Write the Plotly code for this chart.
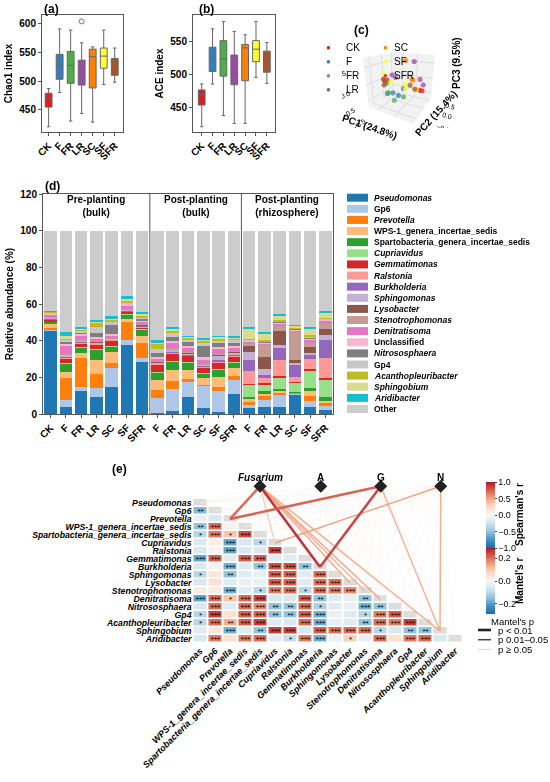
import plotly.graph_objects as go
from plotly.colors import sample_colorscale

W, H = 550, 782
def X(px): return px / W
def Y(py): return 1 - py / H

FONT = "Liberation Sans, Arial, sans-serif"

# ---------------- data: (a) & (b) ----------------
groups = ["CK", "F", "FR", "LR", "SC", "SF", "SFR"]
group_colors = ["#e41a1c", "#377eb8", "#4daf4a", "#984ea3", "#ff7f00", "#ffff33", "#a65628"]

chao_lo = [421, 480, 431, 444, 429, 494, 498]
chao_q1 = [455, 503, 496, 493, 488, 522, 510]
chao_med = [470, 527, 527, 510, 542, 543, 534]
chao_q3 = [479, 546, 551, 536, 555, 557, 539]
chao_hi = [487, 590, 588, 566, 559, 588, 557]
chao_outlier_group = 3
chao_outlier = 603

ace_lo = [420, 485, 437, 425, 425, 495, 486]
ace_q1 = [453, 504, 497, 484, 490, 519, 503]
ace_med = [469, 523, 523, 501, 540, 538, 522]
ace_q3 = [476, 541, 551, 529, 545, 551, 535]
ace_hi = [485, 569, 580, 565, 560, 580, 548]

# ---------------- data: (c) PCoA ----------------
pc_titles = ["PC1 (24.8%)", "PC2 (15.4%)", "PC3 (9.5%)"]
pc1 = {
    "CK": [-0.55, -0.5, 0.25, 0.3],
    "F": [-0.2, -0.1, 0.0, -0.3],
    "FR": [-0.45, -0.3, -0.1, 0.05],
    "LR": [-0.4, -0.35, 0.2, 0.35, 0.1],
    "SC": [-0.05, 0.1, 0.0, 0.2],
    "SF": [-0.5, -0.35, -0.1, 0.0, 0.15],
    "SFR": [-0.55, -0.5, 0.05, 0.15],
}
pc2 = {
    "CK": [-0.3, -0.2, 0.3, 0.4],
    "F": [-0.4, -0.3, -0.2, -0.5],
    "FR": [-0.3, -0.45, -0.5, -0.3],
    "LR": [-0.1, 0.0, 0.45, 0.3, 0.2],
    "SC": [0.0, 0.1, 0.4, 0.2],
    "SF": [-0.35, -0.25, 0.1, -0.1, 0.3],
    "SFR": [-0.25, -0.35, 0.1, 0.2],
}
pc3 = {
    "CK": [0.1, 0.05, -0.3, -0.35],
    "F": [-0.2, -0.3, -0.1, -0.2],
    "FR": [0.0, -0.2, -0.35, -0.3],
    "LR": [0.2, 0.1, 0.0, -0.1, 0.6],
    "SC": [0.65, 0.1, -0.05, -0.25],
    "SF": [0.3, 0.05, -0.1, -0.15, -0.3],
    "SFR": [0.0, -0.05, -0.1, -0.25],
}

# ---------------- data: (d) stacked bars ----------------
bar_ticks = ["CK", "F", "FR", "LR", "SC", "SF", "SFR",
             "F", "FR", "LR", "SC", "SF", "SFR",
             "F", "FR", "LR", "SC", "SF", "SFR"]
bar_genera = ["Pseudomonas", "Gp6", "Prevotella", "WPS-1_genera_incertae_sedis",
              "Spartobacteria_genera_incertae_sedis", "Cupriavidus", "Gemmatimonas",
              "Ralstonia", "Burkholderia", "Sphingomonas", "Lysobacter", "Stenotrophomonas",
              "Denitratisoma", "Unclassified", "Nitrososphaera", "Gp4", "Acanthopleuribacter",
              "Sphingobium", "Aridibacter"]
bar_italic = [True, False, True, False, False, True, True, True, True, True, True, True,
              True, False, True, False, True, True, True]
bar_colors = ["#1f77b4", "#aec7e8", "#ff7f0e", "#ffbb78", "#2ca02c", "#98df8a", "#d62728",
              "#ff9896", "#9467bd", "#c5b0d5", "#8c564b", "#c49c94", "#e377c2", "#f7b6d2",
              "#7f7f7f", "#c7c7c7", "#bcbd22", "#dbdb8d", "#17becf"]
other_color = "#cccccc"

Pseudomonas = [45.5, 3.8, 12.6, 9.2, 14.6, 37.5, 28.1, 0.3, 1.8, 9.2, 3.2, 1.0, 11.0, 3.2, 3.6, 3.8, 10.5, 3.6, 2.2]
Gp6 = [0.6, 3.6, 2.4, 4.9, 10.3, 2.7, 2.2, 8.5, 11.7, 8.5, 12.2, 11.3, 7.3, 1.8, 4.2, 6.7, 0.7, 3.6, 2.2]
Prevotella = [0.8, 12.0, 15.8, 7.7, 2.7, 9.9, 8.4, 4.1, 4.6, 1.5, 0.3, 2.3, 2.5, 1.5, 1.8, 0.9, 0.3, 2.4, 1.5]
WPS1 = [2.3, 3.5, 2.5, 7.9, 6.3, 1.8, 3.6, 5.8, 6.0, 4.9, 4.1, 5.5, 4.2, 1.8, 1.2, 1.4, 0.3, 2.7, 1.4]
Spartobacteria = [1.0, 4.5, 2.9, 5.6, 2.7, 2.3, 3.6, 4.0, 4.5, 4.0, 2.4, 4.3, 3.2, 1.1, 1.5, 0.9, 0.3, 1.8, 1.8]
Cupriavidus = [0.3, 0.3, 0.3, 0.3, 0.3, 0.3, 0.3, 0.3, 0.3, 0.3, 0.3, 0.3, 0.3, 6.5, 3.3, 6.2, 4.9, 9.4, 9.8]
Gemmatimonas = [0.8, 2.5, 2.2, 2.4, 3.2, 1.3, 1.2, 3.8, 4.2, 3.3, 2.8, 3.4, 2.8, 0.7, 1.2, 1.1, 0.3, 1.1, 0.7]
Ralstonia = [0.4, 0.5, 0.4, 0.3, 0.3, 0.3, 0.3, 0.5, 0.6, 0.4, 0.6, 0.8, 0.8, 6.6, 3.1, 8.5, 3.0, 5.4, 10.7]
Burkholderia = [0.3, 0.4, 0.3, 0.3, 0.3, 0.2, 0.3, 0.3, 0.3, 0.3, 0.3, 0.5, 0.3, 6.3, 1.5, 6.3, 6.4, 2.2, 10.0]
Sphingomonas = [0.4, 1.2, 0.6, 0.6, 0.4, 0.5, 0.4, 0.6, 1.0, 0.6, 0.6, 2.5, 1.0, 4.5, 3.2, 1.9, 1.2, 0.9, 2.7]
Lysobacter = [0.3, 0.3, 0.3, 0.3, 0.3, 0.3, 0.5, 0.3, 0.4, 0.4, 0.3, 0.5, 0.5, 3.3, 6.7, 7.6, 1.5, 3.7, 3.1]
Stenotrophomonas = [0.4, 0.3, 0.4, 0.3, 0.3, 0.3, 0.4, 0.4, 0.4, 0.4, 0.4, 0.5, 0.6, 1.2, 6.4, 2.9, 15.4, 1.7, 3.2]
Denitratisoma = [1.0, 4.0, 1.6, 1.5, 1.0, 1.4, 0.9, 1.5, 2.7, 2.5, 1.8, 2.5, 1.8, 0.9, 0.9, 1.2, 0.9, 1.9, 1.5]
Unclassified = [0.5, 1.8, 1.5, 0.8, 1.2, 1.2, 0.8, 0.8, 1.5, 1.0, 2.0, 1.2, 0.8, 0.5, 0.6, 0.5, 0.5, 0.9, 0.5]
Nitrososphaera = [0.4, 0.6, 0.5, 2.0, 4.8, 0.4, 0.9, 2.2, 2.2, 1.8, 5.9, 2.2, 1.8, 0.3, 0.3, 0.3, 0.3, 0.3, 0.3]
Gp4 = [0.3, 0.8, 1.0, 3.6, 1.4, 0.6, 1.0, 2.3, 1.8, 1.2, 1.6, 1.2, 1.2, 0.3, 0.3, 0.3, 0.3, 0.3, 0.3]
Acanthopleuribacter = [0.4, 1.3, 0.6, 2.2, 1.3, 0.9, 0.6, 2.3, 1.4, 1.2, 1.2, 1.2, 1.2, 0.4, 0.5, 0.8, 0.4, 1.3, 0.5]
Sphingobium = [0.3, 0.9, 0.6, 0.7, 0.8, 0.8, 0.8, 1.2, 0.7, 0.6, 0.6, 0.8, 0.6, 6.0, 3.5, 2.2, 1.0, 3.3, 2.9]
Aridibacter = [0.2, 2.4, 1.2, 0.6, 1.0, 1.5, 1.6, 0.9, 1.5, 0.5, 0.8, 0.4, 0.5, 0.6, 1.1, 0.9, 0.3, 0.7, 1.1]

bar_values = [Pseudomonas, Gp6, Prevotella, WPS1, Spartobacteria, Cupriavidus, Gemmatimonas,
              Ralstonia, Burkholderia, Sphingomonas, Lysobacter, Stenotrophomonas, Denitratisoma,
              Unclassified, Nitrososphaera, Gp4, Acanthopleuribacter, Sphingobium, Aridibacter]
Other = [round(100 - sum(v[i] for v in bar_values), 2) for i in range(len(bar_ticks))]

stage_labels = ["Pre-planting<br>(bulk)", "Post-planting<br>(bulk)", "Post-planting<br>(rhizosphere)"]
stage_centers = [3, 9.5, 15.5]
stage_breaks = [6.5, 12.5]

# ---------------- data: (e) correlation heatmap + Mantel ----------------
heat_genera = ["Pseudomonas", "Gp6", "Prevotella", "WPS-1_genera_incertae_sedis",
               "Spartobacteria_genera_incertae_sedis", "Cupriavidus", "Ralstonia",
               "Gemmatimonas", "Burkholderia", "Sphingomonas", "Lysobacter",
               "Stenotrophomonas", "Denitratisoma", "Nitrososphaera", "Gp4",
               "Acanthopleuribacter", "Sphingobium", "Aridibacter"]

spearman_rows = [
    [],
    [-0.55],
    [-0.1, -0.2],
    [-0.5, 0.7, 0.05],
    [-0.35, 0.65, 0.35, 0.8],
    [-0.2, 0.1, -0.65, -0.2, -0.35],
    [-0.2, 0.05, -0.65, -0.2, -0.2, 0.85],
    [-0.65, 0.75, -0.15, 0.75, 0.75, -0.15, -0.15],
    [-0.2, 0.05, -0.6, -0.15, -0.5, 0.8, 0.8, -0.5],
    [-0.35, 0.15, -0.5, -0.15, -0.1, 0.75, 0.75, -0.15, 0.7],
    [-0.2, 0.2, -0.15, -0.1, -0.1, 0.75, 0.75, -0.15, 0.7, 0.7],
    [0.1, 0.1, -0.6, -0.15, -0.35, 0.65, 0.7, -0.35, 0.7, 0.65, 0.6],
    [-0.65, 0.7, 0.35, 0.7, 0.85, -0.2, -0.2, 0.75, -0.5, -0.15, -0.1, -0.5],
    [-0.2, 0.7, -0.15, 0.7, 0.6, -0.5, -0.5, 0.7, -0.4, -0.15, -0.1, -0.6, -0.5],
    [-0.35, 0.85, 0.2, 0.75, 0.75, -0.5, -0.5, 0.75, -0.6, -0.1, -0.15, -0.35, 0.65, 0.75],
    [-0.35, 0.7, 0.45, 0.75, 0.85, -0.15, -0.2, 0.7, -0.6, -0.1, -0.15, -0.5, 0.7, 0.65, 0.85],
    [-0.15, 0.15, -0.6, -0.15, -0.5, 0.85, 0.85, -0.2, 0.75, 0.7, 0.7, 0.7, -0.35, -0.2, -0.5, -0.5],
    [-0.2, 0.65, 0.2, 0.65, 0.7, -0.15, -0.3, 0.65, -0.6, -0.1, 0.3, -0.1, 0.7, 0.2, 0.65, 0.7, -0.2],
]
star_rows = [
    [],
    ["**"],
    ["", ""],
    ["**", "***", ""],
    ["*", "***", "*", "***"],
    ["", "", "***", "", "*"],
    ["", "", "***", "", "", "***"],
    ["***", "***", "", "***", "***", "", ""],
    ["", "", "***", "", "**", "***", "***", "**"],
    ["*", "", "**", "", "", "***", "***", "", "***"],
    ["", "", "", "", "", "***", "***", "", "***", "***"],
    ["", "", "***", "", "*", "***", "***", "*", "***", "***", "***"],
    ["***", "***", "*", "***", "***", "", "", "***", "**", "", "", "**"],
    ["", "***", "", "***", "***", "**", "**", "***", "*", "", "", "***", "**"],
    ["*", "***", "", "***", "***", "**", "**", "***", "***", "", "", "*", "***", "***"],
    ["*", "***", "**", "***", "***", "", "", "***", "***", "", "", "**", "***", "***", "***"],
    ["", "", "***", "", "**", "***", "***", "", "***", "***", "***", "***", "*", "", "**", "**"],
    ["", "***", "", "***", "***", "", "*", "***", "***", "", "*", "", "***", "", "***", "***", ""],
]

mantel_nodes = ["<i>Fusarium</i>", "A", "G", "N"]
mantel_r_fusarium = [0.03, 0.01, 0.21, 0.02, 0.04, 0.09, 0.06, 0.02, 0.27, 0.05, 0.14, 0.13, 0.15, 0.01, 0.03, 0.04, 0.14, 0.03]
mantel_p_fusarium = [0.3, 0.5, 0.005, 0.4, 0.2, 0.04, 0.08, 0.4, 0.001, 0.2, 0.02, 0.03, 0.02, 0.5, 0.3, 0.3, 0.02, 0.3]
mantel_r_A = [0.02, -0.03, 0.04, 0.01, 0.05, 0.01, 0.02, -0.02, 0.03, 0.02, 0.01, 0.02, 0.03, -0.04, 0.01, 0.02, 0.01, 0.01]
mantel_p_A = [0.4, 0.6, 0.3, 0.5, 0.2, 0.5, 0.4, 0.6, 0.3, 0.4, 0.5, 0.4, 0.3, 0.7, 0.5, 0.4, 0.5, 0.6]
mantel_r_G = [0.02, 0.01, 0.22, 0.03, 0.02, 0.04, 0.05, -0.03, 0.25, 0.04, 0.05, 0.04, 0.03, -0.03, 0.01, 0.03, 0.13, 0.04]
mantel_p_G = [0.4, 0.5, 0.005, 0.3, 0.4, 0.2, 0.2, 0.6, 0.001, 0.2, 0.2, 0.2, 0.3, 0.6, 0.5, 0.3, 0.03, 0.2]
mantel_r_N = [0.04, 0.02, 0.03, 0.01, 0.04, 0.15, 0.05, -0.04, 0.04, 0.03, 0.04, 0.02, 0.04, -0.05, 0.02, 0.03, 0.14, 0.02]
mantel_p_N = [0.2, 0.4, 0.3, 0.5, 0.2, 0.02, 0.2, 0.6, 0.2, 0.3, 0.2, 0.4, 0.2, 0.6, 0.4, 0.3, 0.02, 0.4]
mantel_r = [mantel_r_fusarium, mantel_r_A, mantel_r_G, mantel_r_N]
mantel_p = [mantel_p_fusarium, mantel_p_A, mantel_p_G, mantel_p_N]

# ---------------- styling constants ----------------
node_x = [4.0, 8.05, 12.05, 16.05]
node_y = -2.1
scale_colors = ["#2166ac", "#4393c3", "#92c5de", "#d1e5f0", "#f7f7f7",
                "#fddbc7", "#f4a582", "#d6604d", "#b2182b"]
div_scale = [[i / 8, c] for i, c in enumerate(scale_colors)]
MANTEL_MAX = 0.29

fig = go.Figure()

# ---- (a) Chao1 ----
for i, g in enumerate(groups):
    fig.add_trace(go.Box(x=[i], q1=[chao_q1[i]], median=[chao_med[i]], q3=[chao_q3[i]],
                         lowerfence=[chao_lo[i]], upperfence=[chao_hi[i]],
                         fillcolor=group_colors[i], line=dict(color="#666666", width=1),
                         width=0.62, boxpoints=False, xaxis="x", yaxis="y", showlegend=False))
fig.add_trace(go.Scatter(x=[chao_outlier_group], y=[chao_outlier], mode="markers",
                         marker=dict(symbol="circle-open", size=5, color="#777777", line=dict(width=1)),
                         xaxis="x", yaxis="y", showlegend=False))
# ---- (b) ACE ----
for i, g in enumerate(groups):
    fig.add_trace(go.Box(x=[i], q1=[ace_q1[i]], median=[ace_med[i]], q3=[ace_q3[i]],
                         lowerfence=[ace_lo[i]], upperfence=[ace_hi[i]],
                         fillcolor=group_colors[i], line=dict(color="#666666", width=1),
                         width=0.62, boxpoints=False, xaxis="x2", yaxis="y2", showlegend=False))

# ---- (c) 3D ----
for i, g in enumerate(groups):
    fig.add_trace(go.Scatter3d(x=pc1[g], y=pc2[g], z=pc3[g], mode="markers",
                               marker=dict(size=3, color=group_colors[i], opacity=0.75),
                               scene="scene", showlegend=False))

# ---- (d) stacked bars ----
xb = list(range(len(bar_ticks)))
for name, vals, col in zip(bar_genera, bar_values, bar_colors):
    fig.add_trace(go.Bar(x=xb, y=vals, name=name, marker=dict(color=col, line=dict(width=0)),
                         width=0.82, xaxis="x3", yaxis="y3", showlegend=False))
fig.add_trace(go.Bar(x=xb, y=Other, name="Other", marker=dict(color=other_color, line=dict(width=0)),
                     width=0.82, xaxis="x3", yaxis="y3", showlegend=False))

# ---- (e) heatmap ----
n = len(heat_genera)
Z = [[None] * n for _ in range(n)]
T = [[""] * n for _ in range(n)]
Zd = [[None] * n for _ in range(n)]
for i in range(n):
    for j, v in enumerate(spearman_rows[i]):
        Z[i][j] = v
        T[i][j] = star_rows[i][j]
    Zd[i][i] = 0

def width_of(p):
    return 2.6 if p < 0.01 else (1.5 if p < 0.05 else 0.6)

segs = []
for k in range(4):
    for g in range(n):
        segs.append((width_of(mantel_p[k][g]), k, g))
segs.sort()
for w, k, g in segs:
    r = mantel_r[k][g]
    col = sample_colorscale(div_scale, [min(max((r + MANTEL_MAX) / (2 * MANTEL_MAX), 0), 1)])[0]
    fig.add_trace(go.Scatter(x=[node_x[k], g], y=[node_y, g], mode="lines",
                             line=dict(color=col, width=w), opacity=0.95 if w > 1 else 0.5,
                             xaxis="x4", yaxis="y4", showlegend=False, hoverinfo="skip"))

fig.add_trace(go.Heatmap(z=Zd, x=list(range(n)), y=list(range(n)),
                         colorscale=[[0, "#dcdcdc"], [1, "#dcdcdc"]], showscale=False,
                         xgap=2, ygap=1.5, xaxis="x4", yaxis="y4", hoverinfo="skip"))
fig.add_trace(go.Heatmap(z=Z, x=list(range(n)), y=list(range(n)), text=T,
                         texttemplate="%{text}", textfont=dict(size=8, color="black", family=FONT),
                         colorscale=div_scale, zmin=-1, zmax=1, xgap=2, ygap=1.5,
                         xaxis="x4", yaxis="y4", hoverinfo="skip",
                         colorbar=dict(x=X(486), xanchor="left", y=Y(515), yanchor="middle",
                                       len=66, lenmode="pixels", thickness=9, outlinewidth=0,
                                       ticks="outside", ticklen=2, xpad=0, ypad=0,
                                       tickvals=[-1, -0.5, 0, 0.5, 1],
                                       ticktext=["\u22121.0", "\u22120.5", "0.0", "0.5", "1.0"],
                                       tickfont=dict(size=9, family=FONT))))
fig.add_trace(go.Scatter(x=[node_x[0]], y=[node_y], mode="markers",
                         marker=dict(size=1, color=[0], colorscale=div_scale,
                                     cmin=-MANTEL_MAX, cmax=MANTEL_MAX, showscale=True,
                                     colorbar=dict(x=X(486), xanchor="left", y=Y(581), yanchor="middle",
                                                   len=66, lenmode="pixels", thickness=9, outlinewidth=0,
                                                   ticks="outside", ticklen=2, xpad=0, ypad=0,
                                                   tickvals=[-0.2, 0, 0.2],
                                                   ticktext=["\u22120.2", "0.0", "0.2"],
                                                   tickfont=dict(size=9, family=FONT))),
                         xaxis="x4", yaxis="y4", showlegend=False, hoverinfo="skip"))
fig.add_trace(go.Scatter(x=node_x, y=[node_y] * 4, mode="markers",
                         marker=dict(symbol="diamond", size=10, color="#222222"),
                         xaxis="x4", yaxis="y4", showlegend=False, hoverinfo="skip"))

# ---------------- layout ----------------
box_axis = dict(showline=True, linecolor="#555555", linewidth=1, mirror=True, ticks="outside",
                ticklen=3, tickcolor="#555555", showgrid=False, zeroline=False, automargin=False,
                tickfont=dict(size=10, family=FONT, color="black", weight="bold"))

annotations = []
shapes = []

def ann(px, py, text, size=10, xanchor="center", yanchor="middle", angle=0, color="black"):
    annotations.append(dict(x=X(px), y=Y(py), xref="paper", yref="paper", text=text,
                            showarrow=False, xanchor=xanchor, yanchor=yanchor, textangle=angle,
                            font=dict(size=size, family=FONT, color=color)))

ann(42, 9, "<b>(a)</b>", 12, "left")
ann(197, 9, "<b>(b)</b>", 12, "left")
ann(352, 30, "<b>(c)</b>", 12, "left")
ann(43, 186, "<b>(d)</b>", 12, "left")
ann(110, 469, "<b>(e)</b>", 12, "left")

# (c) legend and axis titles
for i, g in enumerate(groups):
    colx = 328 if i < 4 else 385
    py = 48 + 13.7 * (i if i < 4 else i - 4)
    ann(colx, py, "\u25cf", 8, color=group_colors[i])
    ann(colx + 16 if i < 4 else colx + 7, py, g, 10, "left")
ann(369, 127, "<b>%s</b>" % pc_titles[0], 10, angle=19)
ann(436, 114, "<b>%s</b>" % pc_titles[1], 10, angle=-48)
ann(456, 63, "<b>%s</b>" % pc_titles[2], 10, angle=-90)

for c, t in zip(stage_centers, stage_labels):
    annotations.append(dict(x=c, y=113.5, xref="x3", yref="y3", text="<b>" + t + "</b>",
                            showarrow=False, font=dict(size=10, family=FONT, color="black")))
for b in stage_breaks:
    shapes.append(dict(type="line", xref="x3", yref="y3", x0=b, x1=b, y0=0, y1=120,
                       line=dict(color="#555555", width=1)))

leg_names = bar_genera + ["Other"]
leg_italic = bar_italic + [False]
leg_colors = bar_colors + [other_color]
for k, (nm, it, col) in enumerate(zip(leg_names, leg_italic, leg_colors)):
    yc = 197.7 + 11.12 * k
    shapes.append(dict(type="rect", xref="paper", yref="paper", x0=X(347), x1=X(368),
                       y0=Y(yc + 4), y1=Y(yc - 4), fillcolor=col, line=dict(width=0)))
    txt = "<b><i>%s</i></b>" % nm if it else "<b>%s</b>" % nm
    ann(372, yc, txt, 8.5, "left")

for k, nm in enumerate(mantel_nodes):
    annotations.append(dict(x=node_x[k], y=-3.2, xref="x4", yref="y4", text="<b>" + nm + "</b>",
                            showarrow=False, font=dict(size=10, family=FONT, color="black")))
ann(519, 515, "<b>Spearman's r</b>", 10, angle=-90)
ann(519, 581, "<b>Mantel's r</b>", 10, angle=-90)
ann(512, 621, "Mantel's p", 9.5)
for k, (lbl, w, c) in enumerate([("p < 0.01", 2.6, "#222222"), ("p 0.01\u20130.05", 1.5, "#444444"),
                                  ("p \u2265 0.05", 0.6, "#bbbbbb")]):
    py = 630 + 9.7 * k
    shapes.append(dict(type="line", xref="paper", yref="paper", x0=X(478), x1=X(491),
                       y0=Y(py), y1=Y(py), line=dict(color=c, width=w)))
    ann(496, py, lbl, 9.5, "left")

heat_ticktext = ["<b><i>%s</i></b>" % g for g in heat_genera]

scene_axis = dict(title=dict(text=""), tickfont=dict(size=9, family=FONT),
                  backgroundcolor="#f2f2f2", showbackground=True, gridcolor="#dddddd",
                  zeroline=False, showspikes=False)

fig.update_layout(
    width=W, height=H, margin=dict(l=0, r=0, t=0, b=0, autoexpand=False),
    paper_bgcolor="white", plot_bgcolor="white",
    font=dict(family=FONT, color="black"),
    barmode="stack", boxmode="overlay", showlegend=False,
    xaxis=dict(box_axis, anchor="y", domain=[X(42), X(123)], range=[-0.6, 6.75], tickvals=list(range(7)),
               ticktext=groups, tickangle=-45),
    yaxis=dict(box_axis, anchor="x", domain=[Y(132), Y(15)], range=[412, 614], tickvals=[450, 500, 550, 600],
               title=dict(text="<b>Chao1 index</b>", font=dict(size=10), standoff=4)),
    xaxis2=dict(box_axis, anchor="y2", domain=[X(193), X(275)], range=[-0.8, 6.75], tickvals=list(range(7)),
                ticktext=groups, tickangle=-45),
    yaxis2=dict(box_axis, anchor="x2", domain=[Y(132), Y(15)], range=[412, 590], tickvals=[450, 500, 550],
                title=dict(text="<b>ACE index</b>", font=dict(size=10), standoff=4)),
    xaxis3=dict(box_axis, anchor="y3", domain=[X(43), X(333)], range=[-0.5, 18.5], tickvals=xb,
                ticktext=bar_ticks, tickangle=-45),
    yaxis3=dict(box_axis, anchor="x3", domain=[Y(414), Y(194)], range=[0, 120],
                tickvals=[0, 20, 40, 60, 80, 100, 120],
                title=dict(text="<b>Relative abundance (%)</b>", font=dict(size=10), standoff=4)),
    xaxis4=dict(anchor="y4", domain=[X(192.5), X(462.5)], range=[-0.5, 17.5], tickvals=list(range(n)),
                ticktext=heat_ticktext, tickangle=-45, showgrid=False, zeroline=False, automargin=False,
                showline=False, ticks="", tickfont=dict(size=9, family=FONT, color="black")),
    yaxis4=dict(anchor="x4", domain=[Y(643), Y(475)], range=[17.5, -3.5], tickvals=list(range(n)),
                ticktext=heat_ticktext, showgrid=False, zeroline=False, showline=False, ticks="",
                automargin=False, tickfont=dict(size=8.7, family=FONT, color="black")),
    scene=dict(
        domain=dict(x=[X(342), X(462)], y=[Y(128), Y(34)]),
        aspectmode="cube",
        camera=dict(eye=dict(x=1.08, y=-1.89, z=0.84), center=dict(x=0.0, y=0.0, z=0.0)),
        xaxis=dict(scene_axis, range=[-0.8, 0.5], tickvals=[-0.5, 0.0], ticktext=["\u22120.5", "0.0"]),
        yaxis=dict(scene_axis, range=[-0.7, 0.7], tickvals=[-0.5, 0.0, 0.5],
                   ticktext=["\u22120.5", "0.0", "0.5"]),
        zaxis=dict(scene_axis, range=[-0.7, 0.75], tickvals=[-0.5, 0.0, 0.5],
                   ticktext=["\u22120.5", "0.0", "0.5"]),
    ),
    annotations=annotations, shapes=shapes,
)

fig.write_html("out.html", config={"displayModeBar": False},
               post_script="document.body.style.margin='0px';document.body.style.overflow='hidden';")
